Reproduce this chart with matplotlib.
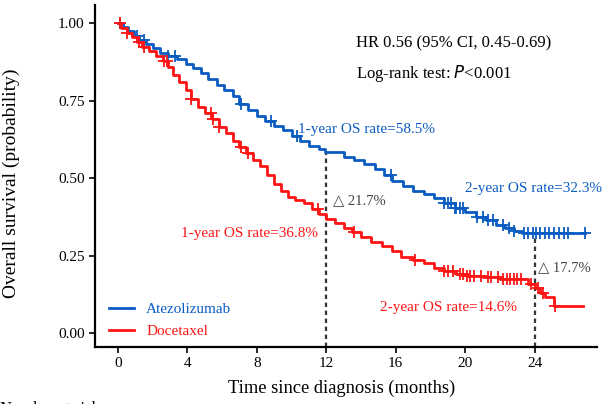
import numpy as np
import matplotlib
matplotlib.use('Agg')
from matplotlib import pyplot as plt

plt.rcParams['font.family'] = ['Liberation Serif', 'DejaVu Serif']

# Kaplan-Meier step points (months, survival)
blue_t = [0, 0.3, 0.6, 0.9, 1.2, 1.6, 2.0, 2.4, 2.9, 3.4, 3.9, 4.3, 4.8, 5.2, 5.7,
          6.1, 6.6, 7.0, 7.5, 8.0, 8.5, 9.0, 9.5, 10.0, 10.5, 11.0, 11.6, 11.9,
          13.0, 13.6, 14.2, 14.8, 15.3, 15.8, 16.4, 17.0, 17.6, 18.2, 18.8, 19.4,
          20.0, 20.6, 21.2, 21.8, 22.3, 22.8, 23.3]
blue_s = [1.00, 0.99, 0.975, 0.96, 0.945, 0.935, 0.92, 0.905, 0.895, 0.885, 0.87,
          0.855, 0.84, 0.82, 0.80, 0.785, 0.765, 0.74, 0.72, 0.70, 0.685, 0.67,
          0.655, 0.635, 0.62, 0.605, 0.595, 0.585, 0.57, 0.56, 0.545, 0.53, 0.51,
          0.49, 0.475, 0.46, 0.45, 0.435, 0.42, 0.405, 0.39, 0.375, 0.365, 0.35,
          0.34, 0.33, 0.323]
blue_end = 26.9

red_t = [0, 0.2, 0.5, 0.8, 1.1, 1.4, 1.8, 2.2, 2.6, 2.9, 3.2, 3.5, 3.9, 4.2, 4.6,
         5.0, 5.4, 5.8, 6.2, 6.6, 7.0, 7.4, 7.8, 8.2, 8.6, 9.0, 9.4, 9.8, 10.2,
         10.7, 11.2, 11.6, 12.0, 12.5, 13.0, 13.5, 14.0, 14.6, 15.2, 15.8, 16.3,
         17.0, 17.6, 18.2, 18.8, 19.5, 20.1, 21.0, 22.0, 23.6, 24.0, 24.3, 24.6,
         25.1]
red_s = [1.00, 0.985, 0.97, 0.955, 0.94, 0.925, 0.91, 0.895, 0.88, 0.86, 0.835,
         0.81, 0.785, 0.755, 0.73, 0.71, 0.69, 0.665, 0.645, 0.62, 0.60, 0.58,
         0.56, 0.54, 0.51, 0.48, 0.46, 0.44, 0.43, 0.42, 0.40, 0.385, 0.368,
         0.355, 0.34, 0.325, 0.31, 0.295, 0.28, 0.265, 0.245, 0.235, 0.225, 0.21,
         0.20, 0.19, 0.185, 0.18, 0.175, 0.16, 0.146, 0.13, 0.115, 0.087]
red_end = 26.8

# censoring times
blue_cens = [0.1, 1.1, 1.5, 2.9, 3.3, 7.1, 8.8, 10.3, 15.7, 18.8, 19.0, 19.2,
             19.4, 19.5, 19.7, 19.9, 20.7, 21.0, 21.3, 21.6, 22.2, 22.5, 22.8,
             23.4, 23.6, 23.9, 24.1, 24.3, 24.6, 24.8, 25.1, 25.4, 25.7, 25.9, 26.9]
red_cens = [0.1, 0.55, 1.2, 1.5, 2.65, 2.8, 4.2, 5.35, 5.5, 5.8, 7.1, 7.5, 11.5,
            13.6, 17.1, 18.8, 19.0, 19.3, 19.7, 19.9, 20.1, 20.3, 20.5, 20.9,
            21.3, 21.5, 21.9, 22.2, 22.4, 22.6, 22.8, 23.0, 23.2, 23.8, 24.2, 24.5,
            25.2]

blue_c = '#0a5cc2'
red_c = '#ff1414'


def surv_at(ts, ss, x):
    i = np.searchsorted(ts, x, side='right') - 1
    return np.array(ss)[i]


fig = plt.figure(figsize=(6.05, 4.04), dpi=100)
ax = fig.add_axes([0.157, 0.141, 0.83, 0.847])

for ts, ss, end, cens, c in [(blue_t, blue_s, blue_end, blue_cens, blue_c),
                             (red_t, red_s, red_end, red_cens, red_c)]:
    tt = list(ts) + [end]
    sv = list(ss) + [ss[-1]]
    ax.step(tt, sv, where='post', color=c, lw=2.0, zorder=3)
    ax.plot(cens, surv_at(ts, ss, cens), '+', color=c, ms=8, mew=1.3, zorder=3)

ax.set_xlim(-1.32, 27.6)
ax.set_ylim(-0.045, 1.06)

# 1-year and 2-year reference lines
ax.plot([12, 12], [-0.045, 0.585], ls=(0, (2, 1.6)), color='#333333', lw=1.6, zorder=2)
ax.plot([24, 24], [-0.045, 0.323], ls=(0, (2, 1.6)), color='#333333', lw=1.6, zorder=2)

ax.text(10.36, 0.659, '1-year OS rate=58.5%', color=blue_c, fontsize=11, va='center')
ax.text(20.0, 0.466, '2-year OS rate=32.3%', color=blue_c, fontsize=11, va='center')
ax.text(3.63, 0.322, '1-year OS rate=36.8%', color=red_c, fontsize=11, va='center')
ax.text(15.1, 0.084, '2-year OS rate=14.6%', color=red_c, fontsize=11, va='center')
ax.text(12.4, 0.428, '\u25b3 21.7%', color='#444444', fontsize=10.5, va='center')
ax.text(24.2, 0.212, '\u25b3 17.7%', color='#444444', fontsize=10.5, va='center')
ax.text(13.7, 0.936, 'HR 0.56 (95% CI, 0.45-0.69)', fontsize=12, va='center')
ax.text(13.7, 0.839, 'Log-rank test: $\\it{P}$<0.001', fontsize=12, va='center')

ax.plot([], [], color=blue_c, lw=2.0, label='Atezolizumab')
ax.plot([], [], color=red_c, lw=2.0, label='Docetaxel')
leg = ax.legend(loc='lower left', bbox_to_anchor=(0.0, -0.015), frameon=False,
                fontsize=11, handlelength=1.65, handletextpad=0.8, labelspacing=0.55)
for txt, c in zip(leg.get_texts(), [blue_c, red_c]):
    txt.set_color(c)

ax.set_xticks([0, 4, 8, 12, 16, 20, 24])
ax.set_yticks([0, 0.25, 0.5, 0.75, 1.0])
ax.set_yticklabels(['0.00', '0.25', '0.50', '0.75', '1.00'])
ax.tick_params(labelsize=11, length=4, width=1.2, colors='black')
for s in ['top', 'right']:
    ax.spines[s].set_visible(False)
for s in ['left', 'bottom']:
    ax.spines[s].set_linewidth(1.6)

ax.set_xlabel('Time since diagnosis (months)', fontsize=13.3)
ax.set_ylabel('Overall survival (probability)', fontsize=14)
ax.xaxis.set_label_coords(0.492, -0.096)
ax.yaxis.set_label_coords(-0.149, 0.48)

fig.text(0.0, 0.007, 'Number at risk', fontsize=12, va='top', ha='left')

fig.savefig('out.png', dpi=100)
